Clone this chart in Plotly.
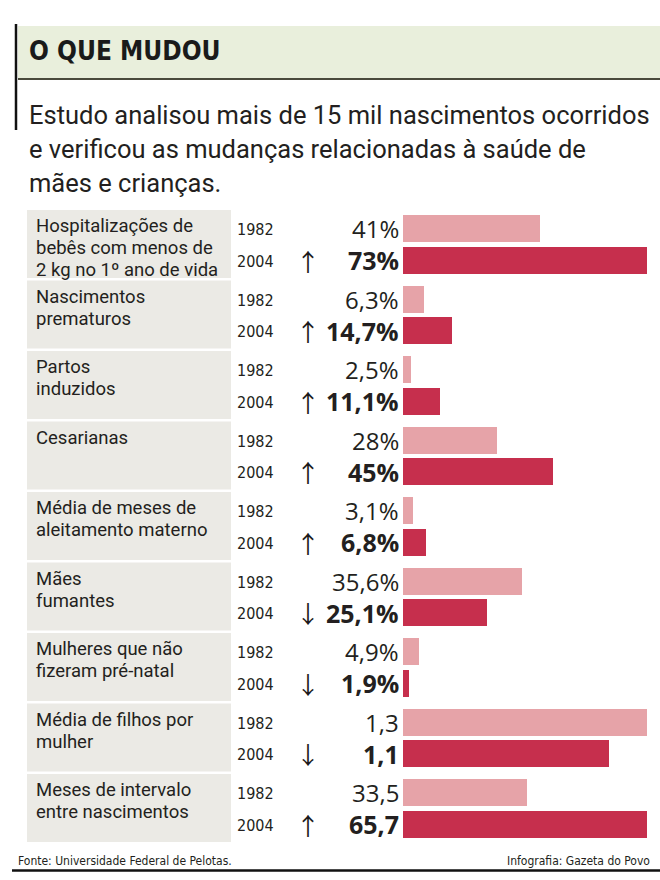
import plotly.graph_objects as go

# ---------------- data ----------------
categories = [
    "Hospitalizações de\nbebês com menos de\n2 kg no 1º ano de vida",
    "Nascimentos\nprematuros",
    "Partos\ninduzidos",
    "Cesarianas",
    "Média de meses de\naleitamento materno",
    "Mães\nfumantes",
    "Mulheres que não\nfizeram pré-natal",
    "Média de filhos por\nmulher",
    "Meses de intervalo\nentre nascimentos",
]
units = ["%", "%", "%", "%", "%", "%", "%", "", ""]
values_1982 = [41, 6.3, 2.5, 28, 3.1, 35.6, 4.9, 1.3, 33.5]
values_2004 = [73, 14.7, 11.1, 45, 6.8, 25.1, 1.9, 1.1, 65.7]
years = ["1982", "2004"]

title = "O QUE MUDOU"
subtitle = ["Estudo analisou mais de 15 mil nascimentos ocorridos",
            "e verificou as mudanças relacionadas à saúde de",
            "mães e crianças."]
source = "Fonte: Universidade Federal de Pelotas."
credit = "Infografia: Gazeta do Povo"

# ---------------- style ----------------
W, H = 660, 880
C82 = "#e6a3a8"
C04 = "#c62f4d"
BOX = "#ebeae5"
BAND = "#e9efdc"
TXT = "#231f20"
MAIN_FONT = "Roboto"
VAL_FONT = "Open Sans"
NARROW = "DejaVu Sans Condensed, Roboto"
ARROW_FONT = "Noto Sans CJK JP, DejaVu Sans"

ROW0 = 210.0      # top of first group box
PITCH = 70.5
BAR_W = 27

def fmt(v, u):
    s = f"{v:g}".replace(".", ",")
    return s + u

# scale: percentages share a common scale; other units scaled to their own max
pct_max = max(max(a, b) for a, b, u in zip(values_1982, values_2004, units) if u == "%")
scales = [pct_max if u == "%" else max(a, b) for a, b, u in zip(values_1982, values_2004, units)]

n = len(categories)
y82 = [ROW0 + 18.5 + i * PITCH for i in range(n)]
y04 = [ROW0 + 50 + i * PITCH for i in range(n)]

fig = go.Figure()
fig.add_trace(go.Bar(orientation="h", y=y82, x=[v / s for v, s in zip(values_1982, scales)],
                     width=BAR_W, marker=dict(color=C82, line=dict(width=0)),
                     name="1982", hoverinfo="skip"))
fig.add_trace(go.Bar(orientation="h", y=y04, x=[v / s for v, s in zip(values_2004, scales)],
                     width=BAR_W, marker=dict(color=C04, line=dict(width=0)),
                     name="2004", hoverinfo="skip"))

shapes = []
ann = []

def px(x):
    return x / W

# header
shapes.append(dict(type="rect", xref="paper", yref="y", x0=px(18), x1=1, y0=26, y1=78,
                   fillcolor=BAND, line=dict(width=0), layer="below"))
shapes.append(dict(type="line", xref="paper", yref="y", x0=px(18), x1=1, y0=79, y1=79,
                   line=dict(color="#4a4a3c", width=2)))
shapes.append(dict(type="line", xref="paper", yref="y", x0=px(16), x1=px(16), y0=24, y1=130,
                   line=dict(color="#111111", width=2.5)))
ann.append(dict(text=f"<b>{title}</b>", x=px(27), y=51, xref="paper", yref="y",
                xanchor="left", yanchor="middle", showarrow=False,
                font=dict(family=NARROW, size=26, color="#1a1a1a")))
for k, line in enumerate(subtitle):
    ann.append(dict(text=line, x=px(27), y=115 + k * 34, xref="paper", yref="y",
                    xanchor="left", yanchor="middle", showarrow=False,
                    font=dict(family=MAIN_FONT, size=25.5, color=TXT)))

for i, cat in enumerate(categories):
    top = ROW0 + i * PITCH
    shapes.append(dict(type="rect", xref="paper", yref="y", x0=px(27), x1=px(231),
                       y0=top, y1=top + 68, fillcolor=BOX, line=dict(width=0), layer="below"))
    for k, line in enumerate(cat.split("\n")):
        ann.append(dict(text=line, x=px(34), y=top + 16 + k * 22, xref="paper", yref="y",
                        xanchor="left", yanchor="middle", showarrow=False,
                        font=dict(family=MAIN_FONT, size=18.5, color=TXT)))
    for yy, yr in zip((y82[i], y04[i]), years):
        ann.append(dict(text=yr, x=px(235), y=yy + 1, xref="paper", yref="y",
                        xanchor="left", yanchor="middle", showarrow=False,
                        font=dict(family=NARROW, size=16, color=TXT)))
    ann.append(dict(text=fmt(values_1982[i], units[i]), x=px(401), y=y82[i], xref="paper", yref="y",
                    xanchor="right", yanchor="middle", showarrow=False,
                    font=dict(family=VAL_FONT, size=24, color=TXT)))
    ann.append(dict(text=f"<b>{fmt(values_2004[i], units[i])}</b>", x=px(401), y=y04[i], xref="paper", yref="y",
                    xanchor="right", yanchor="middle", showarrow=False,
                    font=dict(family=VAL_FONT, size=25, color=TXT)))
    arrow = "↑" if values_2004[i] > values_1982[i] else "↓"
    ann.append(dict(text=arrow, x=px(308), y=y04[i], xref="paper", yref="y",
                    xanchor="center", yanchor="middle", showarrow=False,
                    font=dict(family=ARROW_FONT, size=24, color="#1a1a1a")))

# footer
ann.append(dict(text=source, x=px(16), y=861, xref="paper", yref="y", xanchor="left",
                yanchor="middle", showarrow=False, font=dict(family=NARROW, size=12, color=TXT)))
ann.append(dict(text=credit, x=px(652), y=861, xref="paper", yref="y", xanchor="right",
                yanchor="middle", showarrow=False, font=dict(family=NARROW, size=12, color=TXT)))
shapes.append(dict(type="line", xref="paper", yref="y", x0=px(12), x1=1, y0=870.5, y1=870.5,
                   line=dict(color="#111111", width=2.5)))

fig.update_layout(
    width=W, height=H, margin=dict(l=0, r=0, t=0, b=0),
    paper_bgcolor="white", plot_bgcolor="rgba(0,0,0,0)",
    showlegend=False, barmode="overlay", bargap=0,
    xaxis=dict(domain=[403 / W, 647 / W], range=[0, 1], visible=False, fixedrange=True),
    yaxis=dict(domain=[0, 1], range=[H, 0], visible=False, fixedrange=True),
    shapes=shapes, annotations=ann,
)
fig.write_html("out.html")
